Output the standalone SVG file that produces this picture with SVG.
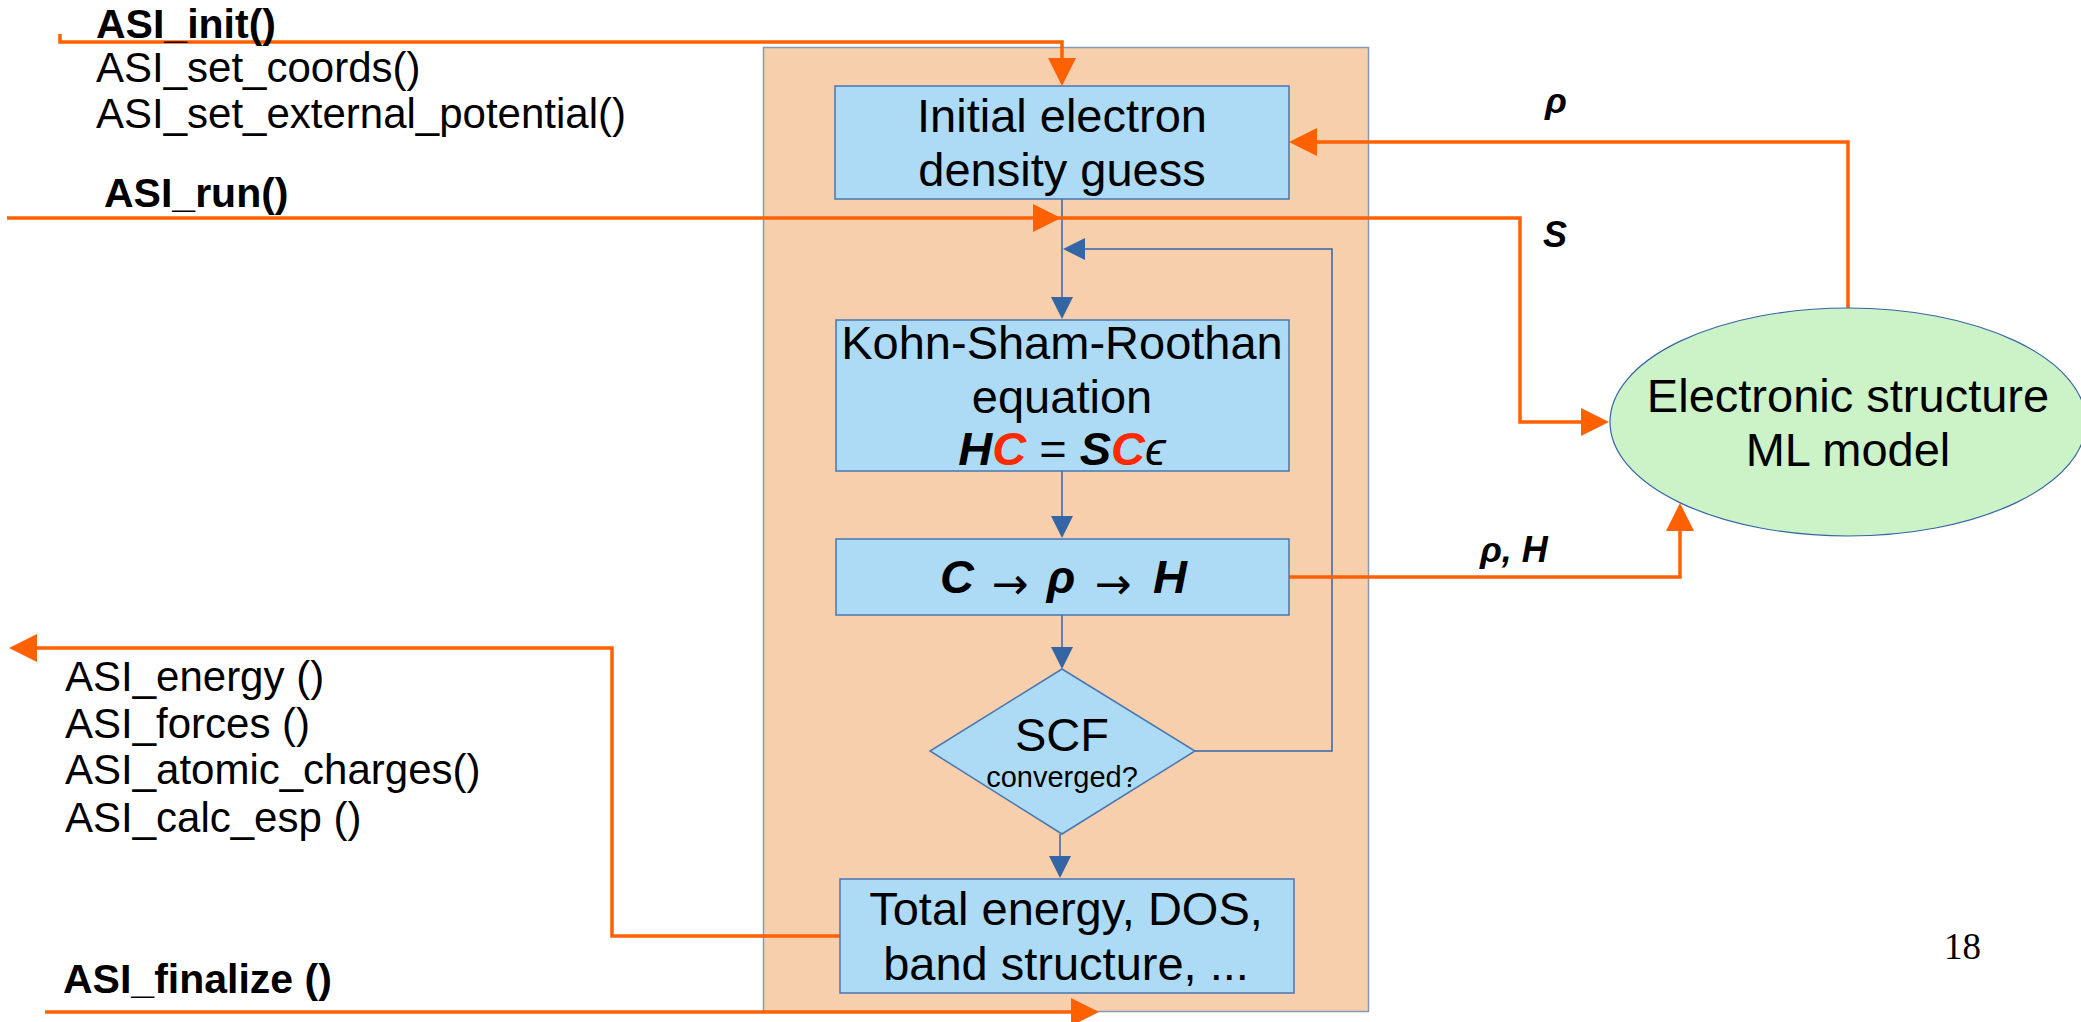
<svg xmlns="http://www.w3.org/2000/svg" width="2081" height="1022" viewBox="0 0 2081 1022">
<defs>
<style>
text{font-family:"Liberation Sans","DejaVu Sans",sans-serif;fill:#000}
.box{fill:#addbf6;stroke:#4a76b0;stroke-width:1.5}
.big{font-size:47px;text-anchor:middle}
.api{font-size:42px}
.apib{font-size:41px;font-weight:bold}
.lbl{font-size:36px;font-weight:bold;font-style:italic}
.bi{font-weight:bold;font-style:italic}
.red{fill:#ff2a00}
.arr{font-family:"DejaVu Sans",sans-serif;font-size:44px;text-anchor:middle}
.or{fill:none;stroke:#ff6000;stroke-width:3.5}
.bl{fill:none;stroke:#3465a4;stroke-width:1.5}
</style>
<marker id="ao" markerUnits="userSpaceOnUse" markerWidth="28" markerHeight="28" refX="18" refY="14" orient="auto">
<path d="M0,0 L28,14 L0,28 z" fill="#ff6000"/>
</marker>
<marker id="ab" markerUnits="userSpaceOnUse" markerWidth="22" markerHeight="22" refX="14" refY="11" orient="auto">
<path d="M0,0 L22,11 L0,22 z" fill="#3465a4"/>
</marker>
</defs>
<rect width="2081" height="1022" fill="#fff"/>

<g id="container">
<rect x="763.5" y="47.5" width="605" height="964" fill="#f8cfad" stroke="#8598b4" stroke-width="1.5"/>
</g>

<g id="connectors">
<path class="bl" d="M1062,199 V311" marker-end="url(#ab)"/>
<path class="bl" d="M1062,471 V530" marker-end="url(#ab)"/>
<path class="bl" d="M1062,615 V661" marker-end="url(#ab)"/>
<path class="bl" d="M1060,834 V870" marker-end="url(#ab)"/>
<path class="bl" d="M1195,751 H1332 V249 H1071" marker-end="url(#ab)"/>
<path class="or" d="M60,34 V42 H1062 V76" marker-end="url(#ao)"/>
<path class="or" d="M7,218 H1051" marker-end="url(#ao)"/>
<path class="or" d="M1051,218 H1520 V422 H1599" marker-end="url(#ao)"/>
<path class="or" d="M1848,309 V142 H1299" marker-end="url(#ao)"/>
<path class="or" d="M1289,577 H1680 V513" marker-end="url(#ao)"/>
<path class="or" d="M840,936 H612 V648 H19" marker-end="url(#ao)"/>
<path class="or" d="M45,1012 H1089" marker-end="url(#ao)"/>
</g>

<g id="initial">
<rect class="box" x="835" y="86" width="454" height="113"/>
<text class="big" x="1062" y="132">Initial electron</text>
<text class="big" x="1062" y="186">density guess</text>
</g>

<g id="ksr">
<rect class="box" x="836" y="320" width="453" height="151"/>
<text class="big" x="1062" y="359">Kohn-Sham-Roothan</text>
<text class="big" x="1062" y="413">equation</text>
<text class="big" x="1062" y="465"><tspan class="bi">H</tspan><tspan class="bi red">C</tspan> = <tspan class="bi">S</tspan><tspan class="bi red">C</tspan><tspan font-style="italic">ϵ</tspan></text>
</g>

<g id="crh">
<rect class="box" x="836" y="539" width="453" height="76"/>
<text class="bi" font-size="47" x="957" y="593" text-anchor="middle">C</text>
<text class="arr" x="1010" y="599">→</text>
<text class="bi" font-size="47" x="1061" y="593" text-anchor="middle">ρ</text>
<text class="arr" x="1113" y="599">→</text>
<text class="bi" font-size="47" x="1170" y="593" text-anchor="middle">H</text>
</g>

<g id="scf">
<polygon class="box" points="1062,669 1195,751 1062,834 930,751"/>
<text class="big" x="1062" y="751" font-size="46">SCF</text>
<text x="1062" y="787" font-size="29" text-anchor="middle">converged?</text>
</g>

<g id="total">
<rect class="box" x="840" y="879" width="454" height="114"/>
<text class="big" x="1066" y="925">Total energy, DOS,</text>
<text class="big" x="1066" y="980">band structure, ...</text>
</g>

<g id="ml">
<ellipse cx="1848" cy="422" rx="238" ry="114" fill="#ccf2c8" stroke="#3465a4" stroke-width="1.2"/>
<text class="big" x="1848" y="412">Electronic structure</text>
<text class="big" x="1848" y="466">ML model</text>
</g>

<g id="api-in">
<text class="apib" x="96" y="38">ASI_init()</text>
<text class="api" x="96" y="82">ASI_set_coords()</text>
<text class="api" x="96" y="128">ASI_set_external_potential()</text>
<text class="apib" x="104" y="207">ASI_run()</text>
</g>

<g id="api-out">
<text class="api" x="65" y="691">ASI_energy ()</text>
<text class="api" x="65" y="738">ASI_forces ()</text>
<text class="api" x="65" y="784">ASI_atomic_charges()</text>
<text class="api" x="65" y="832">ASI_calc_esp ()</text>
<text class="apib" x="63" y="993">ASI_finalize ()</text>
</g>

<g id="labels">
<text class="lbl" x="1545" y="113">ρ</text>
<text class="lbl" x="1543" y="247">S</text>
<text class="lbl" x="1480" y="562">ρ, H</text>
</g>

<text x="1944" y="959" font-size="37" style="font-family:'Liberation Serif',serif">18</text>
</svg>
